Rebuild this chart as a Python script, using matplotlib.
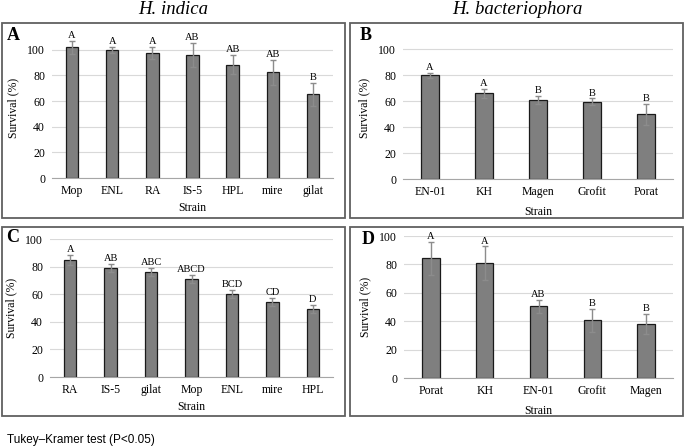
import matplotlib
matplotlib.use('Agg')
import matplotlib.pyplot as plt
from matplotlib.patches import Rectangle
import numpy as np

plt.rcParams['font.family'] = ['Liberation Serif', 'DejaVu Serif']

# panel A - H. indica
a_strains = ['Mop', 'ENL', 'RA', 'IS-5', 'HPL', 'mire', 'gilat']
a_surv = [102, 100, 97.5, 96, 88.5, 82.5, 65.5]
a_err = [5, 2.5, 5, 9.3, 7.5, 9.7, 9]
a_letters = ['A', 'A', 'A', 'AB', 'AB', 'AB', 'B']

# panel B - H. bacteriophora
b_strains = ['EN-01', 'KH', 'Magen', 'Grofit', 'Porat']
b_surv = [79.8, 66, 61, 59.3, 49.8]
b_err = [2, 3.6, 3, 2.7, 8]
b_letters = ['A', 'A', 'B', 'B', 'B']

# panel C - H. indica
c_strains = ['RA', 'IS-5', 'gilat', 'Mop', 'ENL', 'mire', 'HPL']
c_surv = [85, 78.8, 76.2, 71, 60, 54.4, 49.5]
c_err = [3.5, 3, 2.8, 3, 3, 3, 2.8]
c_letters = ['A', 'AB', 'ABC', 'ABCD', 'BCD', 'CD', 'D']

# panel D - H. bacteriophora
d_strains = ['Porat', 'KH', 'EN-01', 'Grofit', 'Magen']
d_surv = [84.3, 80.8, 50.6, 40.5, 38]
d_err = [11.5, 12, 4.5, 8.2, 7]
d_letters = ['A', 'A', 'AB', 'B', 'B']

W, H = 685, 448
fig = plt.figure(figsize=(W / 100, H / 100), dpi=100)


def px_axes(left, top, right, bottom):
    return fig.add_axes([left / W, 1 - bottom / H, (right - left) / W, (bottom - top) / H])


def box(left, top, right, bottom):
    fig.patches.append(Rectangle((left / W, 1 - bottom / H), (right - left) / W, (bottom - top) / H,
                                 transform=fig.transFigure, fill=False, edgecolor='#606060', lw=1.3))


def draw_panel(ax, strains, surv, err, letters, ymax, width, label_y):
    x = np.arange(len(strains))
    ax.set_axisbelow(True)
    ax.yaxis.grid(True, color='#d9d9d9', lw=0.8)
    ax.bar(x, surv, width=width, color='#7f7f7f', edgecolor='#1a1a1a', lw=0.9, zorder=2)
    ax.errorbar(x, surv, yerr=err, fmt='none', ecolor='#8c8c8c', elinewidth=1.0, capsize=2,
                capthick=1.0, zorder=3)
    for xi, s, e, t in zip(x, surv, err, letters):
        ax.annotate(t, (xi, s + e), xytext=(0, 0.5), textcoords='offset points',
                    ha='center', va='bottom', fontsize=7.5)
    ax.set_xlim(-0.5, len(strains) - 0.5)
    ax.set_ylim(0, ymax)
    ax.set_yticks(np.arange(0, 101, 20))
    ax.set_xticks(x, strains)
    for s in ['top', 'right', 'left']:
        ax.spines[s].set_visible(False)
    ax.spines['bottom'].set_color('#a6a6a6')
    ax.tick_params(length=0, labelsize=8.5, pad=5)
    ax.set_ylabel('Survival (%)', fontsize=8.5, labelpad=6)
    ax.set_xlabel('Strain', fontsize=8.5, va='center')
    ax.xaxis.set_label_coords(0.5, label_y)


axA = px_axes(52, 37, 333, 178)
draw_panel(axA, a_strains, a_surv, a_err, a_letters, 110, 0.31, -0.213)
axB = px_axes(403, 36, 673, 179)
draw_panel(axB, b_strains, b_surv, b_err, b_letters, 110, 0.32, -0.231)
axC = px_axes(50, 239, 333, 377)
draw_panel(axC, c_strains, c_surv, c_err, c_letters, 100, 0.31, -0.217)
axD = px_axes(404, 236, 673, 378)
draw_panel(axD, d_strains, d_surv, d_err, d_letters, 100, 0.32, -0.232)

box(2, 23, 345, 218)
box(350, 23, 683, 218)
box(2, 227, 345, 416)
box(350, 227, 683, 416)

for t, (xp, yp) in zip(['A', 'B', 'C', 'D'], [(13, 36), (366, 35), (13, 237), (368, 239)]):
    fig.text(xp / W, 1 - yp / H, t, fontsize=13, fontweight='bold', ha='center', va='center')

fig.text(173 / W, 1 - 10 / H, 'H. indica', fontsize=13.5, style='italic', ha='center', va='center')
fig.text(517 / W, 1 - 10 / H, 'H. bacteriophora', fontsize=13.5, style='italic', ha='center', va='center')
fig.text(7 / W, 1 - 440 / H, 'Tukey\u2013Kramer test (P<0.05)', fontsize=8.5,
         family=['Liberation Sans', 'DejaVu Sans'], ha='left', va='center')

fig.savefig('out.png', dpi=100)
